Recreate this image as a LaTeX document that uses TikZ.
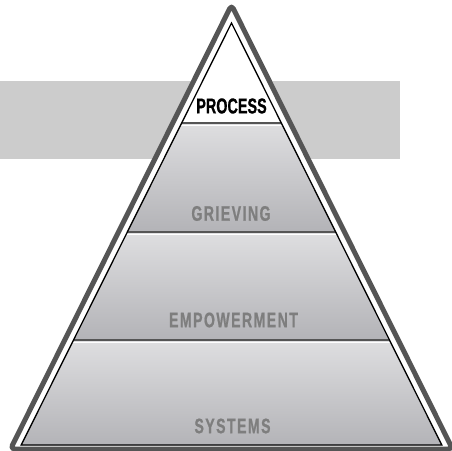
\documentclass[tikz,border=0pt]{standalone}
\usepackage{fontspec}
\newfontfamily\tierfont{Liberation Sans}[FakeStretch=0.67,FakeBold=0.8]
\newfontfamily\tierfontsp{Liberation Sans}[FakeStretch=0.67,FakeBold=0.8,LetterSpace=7]
\definecolor{bandgray}{HTML}{CCCCCC}
\definecolor{framegray}{HTML}{555555}
\definecolor{tiertop}{HTML}{DEDEE0}
\definecolor{tierbot}{HTML}{B3B3B7}
\definecolor{labelgray}{HTML}{7E7E7E}
\tikzset{
  tier/.style={top color=tiertop, bottom color=tierbot, draw=none},
  divider/.style={draw=framegray, line width=2.2pt},
  glint/.style={draw=white, line width=1.2pt},
  toplabel/.style={font=\tierfont\bfseries\fontsize{21.5}{22}\selectfont, text=black, inner sep=0pt},
  tierlabel/.style={font=\tierfontsp\bfseries\fontsize{21}{22}\selectfont, text=labelgray, inner sep=0pt},
}
\begin{document}
\begin{tikzpicture}[x=1pt,y=-1pt]
  \useasboundingbox (0,0) rectangle (452,450);
  \fill[white] (0,0) rectangle (452,450);
  % grey band behind the pyramid
  \fill[bandgray] (0,81) rectangle (400,159);
  % outer frame
  \draw[framegray, fill=white, line width=5pt, rounded corners=4pt, line join=round]
    (231.5,5) -- (452.5,449) -- (10.5,449) -- cycle;
  % tiers, clipped to the inner triangle
  \begin{scope}
    \clip (231.5,23) -- (441.8,445) -- (21.2,445) -- cycle;
    \fill[white] (0,0) rectangle (452,123);
    \fill[tier] (0,124) rectangle (452,232);
    \fill[tier] (0,233) rectangle (452,340);
    \fill[tier] (0,341) rectangle (452,446);
    \draw[divider] (0,123) -- (452,123);
    \draw[glint] (0,125.4) -- (452,125.4);
    \draw[divider] (0,232) -- (452,232);
    \draw[glint] (0,234.4) -- (452,234.4);
    \draw[divider] (0,340) -- (452,340);
    \draw[glint] (0,342.4) -- (452,342.4);
  \end{scope}
  % inner outline
  \draw[black, line width=1.3pt, line join=miter]
    (231.5,23) -- (441.8,445) -- (21.2,445) -- cycle;
  % labels
  \node[toplabel] (process) at (231.5,106) {PROCESS};
  \node[tierlabel] (grieving) at (231,213.5) {GRIEVING};
  \node[tierlabel] (empowerment) at (233.5,320) {EMPOWERMENT};
  \node[tierlabel] (systems) at (232.5,426) {SYSTEMS};
\end{tikzpicture}
\end{document}
